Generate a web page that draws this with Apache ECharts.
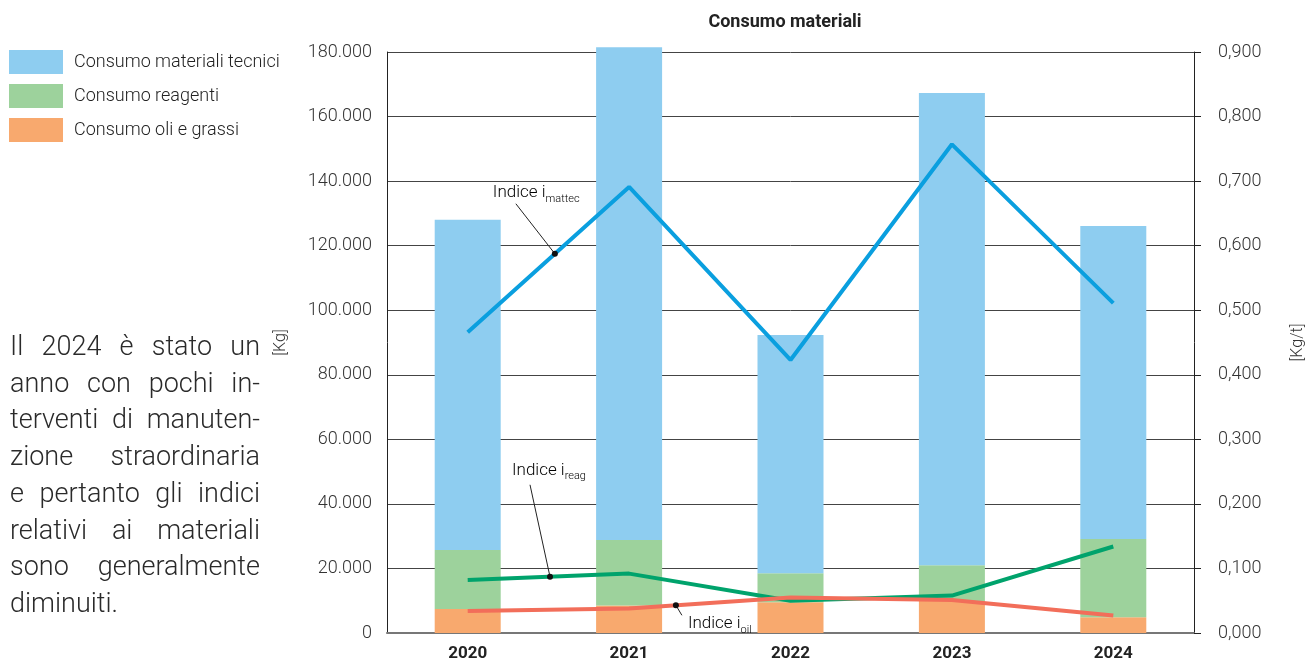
<!DOCTYPE html>
<html>
<head>
<meta charset="utf-8">
<script src="https://cdn.jsdelivr.net/npm/echarts@6/dist/echarts.min.js"></script>
<style>
  html, body { margin: 0; padding: 0; background: #fff; }
  #wrap { position: relative; width: 1314px; height: 662px; }
  #chart { position: absolute; left: 0; top: 0; width: 1314px; height: 662px; }
  #note { position: absolute; left: 10px; top: 328px; width: 250px;
          font-family: Roboto, sans-serif; font-weight: 300; font-size: 27px;
          line-height: 36.7px; color: #2a2a2a; }
  #note .j { text-align: justify; text-align-last: justify; white-space: nowrap; }
  #note .l { text-align: left; }
</style>
</head>
<body>
<div id="wrap">
  <div id="chart"></div>
  <div id="note"></div>
</div>
<script>
// ---- data ----
const years = ['2020', '2021', '2022', '2023', '2024'];
const techMaterials = [102300, 152700, 73800, 146300, 97000];
const reagents = [18300, 20300, 9000, 11100, 24200];
const oilsGreases = [7400, 8500, 9500, 9900, 4900];
const indexMattec = [0.466, 0.691, 0.423, 0.757, 0.511];
const indexReag = [0.082, 0.092, 0.050, 0.058, 0.134];
const indexOil = [0.034, 0.038, 0.055, 0.051, 0.027];
const kgAxis = [0, 180000, 20000];
const kgtAxis = [0, 0.9, 0.1];
const seriesNames = ['Consumo materiali tecnici', 'Consumo reagenti', 'Consumo oli e grassi'];
const noteLines = ['Il 2024 è stato un', 'anno con pochi in-', 'terventi di manuten-', 'zione straordinaria',
  'e pertanto gli indici', 'relativi ai materiali', 'sono generalmente', 'diminuiti.'];

// paragraph
const note = document.getElementById('note');
noteLines.forEach((t, i) => {
  const d = document.createElement('div');
  d.className = i === noteLines.length - 1 ? 'l' : 'j';
  d.textContent = t;
  note.appendChild(d);
});

const FONT = 'Roboto, sans-serif';
const cBlue = '#8ecdf0', cGreen = '#9dd29c', cOrange = '#f8a96e';
const lBlue = '#0a9fdf', lGreen = '#00a36c', lRed = '#f26e5a';

const chart = echarts.init(document.getElementById('chart'));
chart.setOption({
  animation: false,
  textStyle: { fontFamily: FONT },
  title: {
    text: 'Consumo materiali', left: 785, top: 13, textAlign: 'center', padding: 0,
    textStyle: { fontFamily: FONT, fontWeight: 'bold', fontSize: 18, color: '#222' }
  },
  legend: {
    orient: 'vertical', left: 9, top: 50, padding: 0, itemWidth: 54, itemHeight: 24, itemGap: 10,
    icon: 'rect', data: seriesNames, selectedMode: false,
    textStyle: { fontFamily: FONT, fontSize: 18, fontWeight: 300, color: '#222', padding: [0, 0, 0, 6] }
  },
  grid: { left: 387, right: 111, top: 52, bottom: 29, containLabel: false },
  xAxis: {
    type: 'category', data: years,
    axisLine: { lineStyle: { color: '#777', width: 2 } },
    axisTick: { show: false },
    axisLabel: { fontFamily: FONT, fontWeight: 'bold', fontSize: 17, color: '#222', margin: 12 }
  },
  yAxis: [
    {
      type: 'value', min: kgAxis[0], max: kgAxis[1], interval: kgAxis[2],
      name: '[Kg]', nameLocation: 'middle', nameRotate: 90, nameGap: 98,
      nameTextStyle: { fontFamily: FONT, fontWeight: 300, fontSize: 16, color: '#333' },
      axisLine: { show: true, lineStyle: { color: '#222', width: 1 } },
      axisTick: { show: false },
      splitLine: { show: true, lineStyle: { color: '#444', width: 1 } },
      axisLabel: {
        fontFamily: FONT, fontWeight: 300, fontSize: 18, color: '#333', margin: 15,
        formatter: v => v === 0 ? '0' : v.toLocaleString('de-DE')
      }
    },
    {
      type: 'value', min: kgtAxis[0], max: kgtAxis[1], interval: kgtAxis[2],
      name: '[Kg/t]', nameLocation: 'middle', nameRotate: 90, nameGap: 96,
      nameTextStyle: { fontFamily: FONT, fontWeight: 300, fontSize: 16, color: '#333' },
      axisLine: { show: true, lineStyle: { color: '#222', width: 1 } },
      axisTick: { show: true, inside: false, length: 7, lineStyle: { color: '#222' } },
      splitLine: { show: false },
      axisLabel: {
        fontFamily: FONT, fontWeight: 300, fontSize: 18, color: '#333', margin: 24,
        formatter: v => v.toFixed(3).replace('.', ',')
      }
    }
  ],
  series: [
    { name: seriesNames[2], type: 'bar', stack: 'kg', data: oilsGreases, barWidth: 66,
      itemStyle: { color: cOrange }, clip: false },
    { name: seriesNames[1], type: 'bar', stack: 'kg', data: reagents, barWidth: 66,
      itemStyle: { color: cGreen }, clip: false },
    { name: seriesNames[0], type: 'bar', stack: 'kg', data: techMaterials, barWidth: 66,
      itemStyle: { color: cBlue }, clip: false },
    { name: 'i_mattec', type: 'line', yAxisIndex: 1, data: indexMattec, symbol: 'none',
      lineStyle: { color: lBlue, width: 4 }, z: 5 },
    { name: 'i_reag', type: 'line', yAxisIndex: 1, data: indexReag, symbol: 'none',
      lineStyle: { color: lGreen, width: 4 }, z: 5 },
    { name: 'i_oil', type: 'line', yAxisIndex: 1, data: indexOil, symbol: 'none',
      lineStyle: { color: lRed, width: 4 }, z: 6 }
  ]
});

// annotations anchored on the index lines
function pointOn(seriesIndex, values, i, t) {
  const a = chart.convertToPixel({ seriesIndex }, [i, values[i]]);
  const b = chart.convertToPixel({ seriesIndex }, [i + 1, values[i + 1]]);
  return [a[0] + (b[0] - a[0]) * t, a[1] + (b[1] - a[1]) * t];
}
function annotation(p, lineEnd, textPos, main, sub) {
  return [
    { type: 'line', z: 20, shape: { x1: p[0], y1: p[1], x2: p[0] + lineEnd[0], y2: p[1] + lineEnd[1] },
      style: { stroke: '#222', lineWidth: 1 } },
    { type: 'circle', z: 21, shape: { cx: p[0], cy: p[1], r: 3 }, style: { fill: '#111' } },
    { type: 'text', z: 21, x: p[0] + textPos[0], y: p[1] + textPos[1],
      style: {
        text: '{a|' + main + '}{b|' + sub + '}', verticalAlign: 'middle', align: 'left',
        rich: {
          a: { fontFamily: FONT, fontSize: 17, fontWeight: 300, color: '#333', lineHeight: 20, verticalAlign: 'bottom' },
          b: { fontFamily: FONT, fontSize: 11, fontWeight: 300, color: '#333', lineHeight: 20, verticalAlign: 'bottom', padding: [0, 0, -3, 0] }
        }
      } }
  ];
}
const pM = pointOn(3, indexMattec, 0, 0.54);
const pR = pointOn(4, indexReag, 0, 0.51);
const pO = pointOn(5, indexOil, 1, 0.29);
chart.setOption({
  graphic: [].concat(
    annotation(pM, [-39, -50], [-62, -62], 'Indice i', 'mattec'),
    annotation(pR, [-20, -92], [-38, -108], 'Indice i', 'reag'),
    annotation(pO, [6, 10], [12, 17], 'Indice i', 'oil')
  )
});
</script>
</body>
</html>
